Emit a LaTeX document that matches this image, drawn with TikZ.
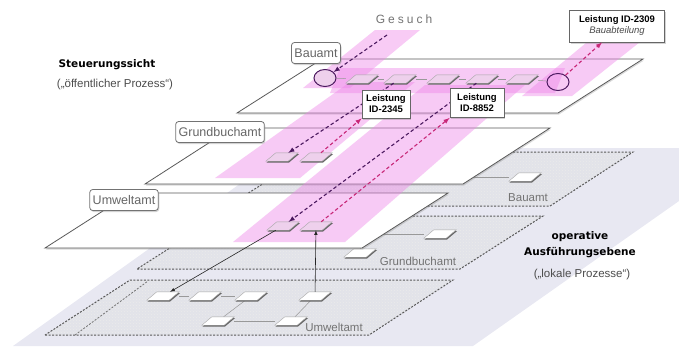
\documentclass[tikz,border=0pt]{standalone}
\usepackage{fontspec}
\setmainfont{Liberation Sans}
\newfontfamily\dejavu{DejaVu Sans}
\usepackage{tikz}
\usetikzlibrary{shapes.geometric,shadows,patterns}

\definecolor{bandblue}{RGB}{232,232,242}
\definecolor{opgrey}{RGB}{226,227,233}
\definecolor{pinkband}{RGB}{238,130,232}
\definecolor{reqviolet}{RGB}{75,25,95}
\definecolor{replypink}{RGB}{200,40,120}
\definecolor{taskpink}{RGB}{238,208,236}

\tikzset{
	plane/.style={fill=white, draw=black!65, line width=0.8pt,
		drop shadow={shadow xshift=0.8pt, shadow yshift=-1.6pt, opacity=0.3}},
	opplane/.style={preaction={fill=opgrey}, pattern=crosshatch dots, pattern color=black!8,
		draw=black!65, line width=1pt, dash pattern=on 2pt off 1.5pt},
	stripe/.style={fill=pinkband, opacity=0.42},
	task/.style={rectangle, minimum width=32pt, minimum height=8pt, inner sep=0pt},
	tile/.style={fill=white, draw=black!35, line width=0.4pt},
	pinktile/.style={tile, fill=taskpink},
	tileshadow/.style={fill=black!60},
	event/.style={ellipse, draw=reqviolet, line width=1pt, fill=taskpink,
		minimum width=22pt, minimum height=17pt, inner sep=0pt},
	link/.style={draw=black!40, line width=0.5pt},
	request/.style={draw=reqviolet, line width=1.1pt, dash pattern=on 3.5pt off 2.5pt, -latex},
	reply/.style={draw=replypink, line width=1.1pt, dash pattern=on 3.5pt off 2.5pt, -latex},
	flow/.style={draw=black!85, line width=0.6pt, -latex},
	office/.style={rounded corners=3pt, draw=black!55, line width=0.8pt, fill=white, text=black!60,
		font=\fontsize{12.5}{14}\selectfont, inner xsep=3pt, inner ysep=0pt, minimum height=21pt,
		drop shadow={shadow xshift=1pt, shadow yshift=-1.5pt, opacity=0.35}},
	service/.style={draw=black!60, line width=0.8pt, fill=white, align=center, inner sep=2pt,
		font=\fontsize{9.5}{11}\selectfont\bfseries,
		drop shadow={shadow xshift=1pt, shadow yshift=-1.5pt, opacity=0.35}},
	oplabel/.style={text=black!55, font=\fontsize{11.5}{13}\selectfont},
	heading/.style={font=\dejavu\bfseries\fontsize{10.5}{16}\selectfont, align=center},
	subheading/.style={text=black!70, font=\fontsize{11.5}{13}\selectfont}
}

\begin{document}
\begin{tikzpicture}[x=1pt,y=-1pt]

	% ---- frame

	\useasboundingbox (0,0) rectangle (679,346);

	% ---- background band

	\fill[bandblue] (13,346) -- (290,148) -- (679,148) -- (679,201) -- (473,346) -- cycle;

	% ---- operative planes

	\path[opplane] (228,206) -- (550,206) -- (633,152) -- (313,152) -- cycle;
	\path[opplane] (137,269) -- (460,269) -- (543,216) -- (220,216) -- cycle;
	\path[opplane] (45,335) -- (369,335) -- (453,280) -- (130,280) -- cycle;
	\draw[black!55, line width=0.8pt, dash pattern=on 2pt off 1.5pt] (75,335) -- (148,281);

	% ---- operative tasks

	\coordinate (p0) at (460,177);
	\node[task] (p1) at (525,177) {};

	\node[task] (q1) at (360,253) {};
	\node[task] (q2) at (440,234) {};

	\node[task] (o1) at (163,296) {};
	\node[task] (o2) at (205,296) {};
	\node[task] (o3) at (251,296) {};
	\node[task] (o4) at (315,296) {};
	\node[task] (o5) at (218,321) {};
	\node[task] (o6) at (291,321) {};

	\draw[link] (p0) -- (p1);
	\draw[link] (q1) |- (q2);
	\foreach \a/\b in {o1/o2,o2/o3,o3/o5,o5/o6,o6/o4} { \draw[link] (\a) -- (\b); }

	\foreach \tk in {p1,q1,q2,o1,o2,o3,o4,o5,o6} {
		\fill[tileshadow] ([shift={(0.8pt,-1.3pt)}]\tk.south west) -- ([shift={(-9.2pt,-1.3pt)}]\tk.south east)
			-- ([shift={(0.8pt,-1.3pt)}]\tk.north east) -- ([shift={(10.8pt,-1.3pt)}]\tk.north west) -- cycle;
		\path[tile] (\tk.south west) -- ([xshift=-10pt]\tk.south east) -- (\tk.north east)
			-- ([xshift=10pt]\tk.north west) -- cycle;
	}

	% ---- operative labels

	\node[oplabel] (opbau) at (528,198) {Bauamt};
	\node[oplabel] (opgrund) at (418,261) {Grundbuchamt};
	\node[oplabel] (opumwelt) at (334,327) {Umweltamt};

	% ---- steering planes

	\path[plane] (45,248) -- (362,248) -- (448,193) -- (131,193) -- cycle;
	\path[plane] (145,184) -- (463,184) -- (550,128) -- (232,128) -- cycle;
	\path[plane] (237,113) -- (558,113) -- (643,59) -- (322,59) -- cycle;

	% ---- pink stripes

	\fill[stripe] (375,30) -- (420,30) -- (350,88) -- (303,88) -- cycle;
	\fill[stripe] (350,82) -- (415,82) -- (300,178) -- (215,178) -- cycle;
	\fill[stripe] (425,85) -- (525,85) -- (345,242) -- (233,242) -- cycle;
	\fill[stripe] (592,38) -- (645,38) -- (572,96) -- (522,96) -- cycle;
	\fill[stripe] (340,68) -- (565,68) -- (555,93) -- (330,93) -- cycle;

	% ---- steering tasks

	\node[event] (c1) at (325,78) {};
	\node[event, fill=none] (c2) at (558,82) {};

	\node[task] (t1) at (362,79) {};
	\node[task] (t2) at (400,79) {};
	\node[task] (t3) at (443,79) {};
	\node[task] (t4) at (482,79) {};
	\node[task] (t5) at (522,79) {};

	\node[task] (g1) at (282,157) {};
	\node[task] (g2) at (316,157) {};

	\node[task] (u1) at (283,226) {};
	\node[task] (u2) at (316,226) {};

	\foreach \a/\b in {c1/t1,t1/t2,t2/t3,t3/t4,t4/t5,t5/c2} { \draw[link] (\a) -- (\b); }

	\foreach \tk in {t1,t2,t3,t4,t5,g1,g2,u1,u2} {
		\fill[tileshadow] ([shift={(0.8pt,-1.3pt)}]\tk.south west) -- ([shift={(-9.2pt,-1.3pt)}]\tk.south east)
			-- ([shift={(0.8pt,-1.3pt)}]\tk.north east) -- ([shift={(10.8pt,-1.3pt)}]\tk.north west) -- cycle;
		\path[pinktile] (\tk.south west) -- ([xshift=-10pt]\tk.south east) -- (\tk.north east)
			-- ([xshift=10pt]\tk.north west) -- cycle;
	}

	% ---- requests under the boxes

	\coordinate (gesuchfoot) at (387,35);
	\draw[request] (gesuchfoot) -- (c1);
	\draw[request] (t2) -- (g1);
	\draw[request] (t4) -- (u1);

	\draw[flow] (u1) -- (o1);
	\draw[flow] (o4) -- (u2);

	% ---- boxes

	\node[office] (bauamt) at (316,53) {Bauamt};
	\node[office] (grundbuchamt) at (220,132) {Grundbuchamt};
	\node[office] (umweltamt) at (124,200) {Umweltamt};

	\node[service, minimum width=95pt, minimum height=32pt] (id2309) at (617,26)
		{Leistung ID-2309\\{\mdseries\itshape\color{black!70}Bauabteilung}};
	\node[service, minimum width=48pt, minimum height=28pt] (id2345) at (386,104) {Leistung\\ID-2345};
	\node[service, minimum width=54pt, minimum height=29pt] (id8852) at (477,103) {Leistung\\ID-8852};

	% ---- replies

	\draw[reply] (g2) -- (id2345.south west);
	\draw[reply] (u2) -- (id8852.south west);
	\draw[reply] (c2) -- ([xshift=-15pt]id2309.south);

	% ---- texts

	\node[text=black!55, font=\fontsize{12}{14}\selectfont\addfontfeature{LetterSpace=25}] (gesuch) at (404,19) {Gesuch};

	\node[heading] (steuerung) at (107,65) {Steuerungssicht};
	\node[subheading] (steuerungsub) at (115,85) {(„öffentlicher Prozess“)};

	\node[heading] (operative) at (580,245) {operative\\Ausführungsebene};
	\node[subheading] (operativesub) at (582,275) {(„lokale Prozesse“)};

\end{tikzpicture}
\end{document}
